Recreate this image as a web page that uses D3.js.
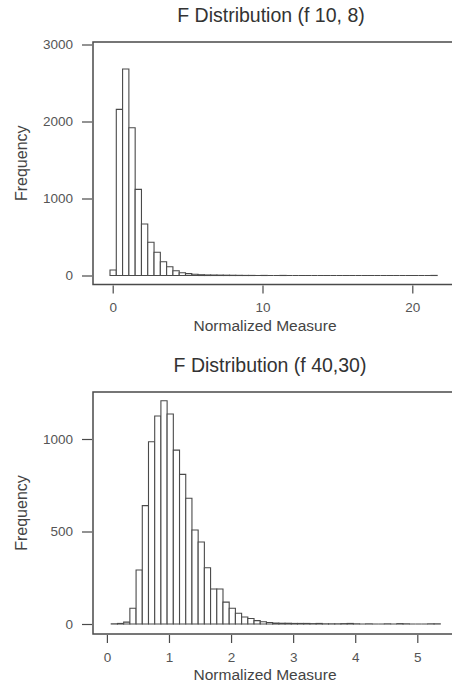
<!DOCTYPE html>
<html>
<head>
<meta charset="utf-8">
<script src="https://cdn.jsdelivr.net/npm/d3@7.9.0/dist/d3.min.js"></script>
<style>
  body { margin: 0; background: #fff; }
  svg { display: block; font-family: "Liberation Sans", Arial, sans-serif; }
</style>
</head>
<body>
<div id="chart"></div>
<script>
// top histogram: F(10, 8)
const topTitle = "F Distribution (f 10, 8)";
const topBinStart = -0.18;
const topBinWidth = 0.42;
const topCounts = [71, 2158, 2682, 1919, 1119, 669, 431, 301, 179, 114, 62, 36,
  24, 16, 10, 7, 6, 5, 4, 3, 2, 1, 1, 0, 1, 0, 0, 1, 0, 0, 0, 0, 0, 0, 0, 0,
  0, 0, 0, 0, 0, 0, 0, 0, 0, 0, 0, 0, 0, 0, 0, 1];
const topXTicks = [0, 10, 20];
const topYTicks = [0, 1000, 2000, 3000];

// bottom histogram: F(40, 30)
const botTitle = "F Distribution (f 40,30)";
const botBinStart = 0.07;
const botBinWidth = 0.1;
const botCounts = [1, 3, 10, 85, 292, 640, 985, 1124, 1207, 1135, 940, 809, 680,
  508, 443, 304, 189, 189, 118, 85, 58, 38, 30, 18, 12, 8, 5, 4, 4, 3, 3, 3, 2,
  3, 1, 1, 1, 2, 3, 1, 0, 1, 0, 0, 1, 0, 2, 1, 0, 0, 0, 1, 1];
const botXTicks = [0, 1, 2, 3, 4, 5];
const botYTicks = [0, 500, 1000];

const xLabel = "Normalized Measure";
const yLabel = "Frequency";

const width = 452, height = 695;
const ink = "#4a4a4a";

const svg = d3.select("#chart").append("svg")
  .attr("width", width)
  .attr("height", height);

function toBins(start, w, counts) {
  return counts.map((c, i) => ({ x0: start + i * w, x1: start + (i + 1) * w, count: c }));
}

function renderHistogram(opt) {
  const g = svg.append("g");
  const box = opt.box;

  const x = d3.scaleLinear().domain(opt.xDomain).range(opt.xRange);
  const y = d3.scaleLinear().domain(opt.yDomain).range(opt.yRange);

  // bars as closed paths so empty bins still show on the baseline (like R's hist)
  g.append("g")
    .selectAll("path")
    .data(opt.bins)
    .join("path")
    .attr("d", d => {
      const p = d3.path();
      p.rect(x(d.x0), y(d.count), x(d.x1) - x(d.x0), y(0) - y(d.count));
      return p.toString();
    })
    .attr("fill", "#fff")
    .attr("stroke", ink)
    .attr("stroke-width", 1.1);

  // frame
  g.append("rect")
    .attr("x", box.left)
    .attr("y", box.top)
    .attr("width", box.right - box.left)
    .attr("height", box.bottom - box.top)
    .attr("fill", "none")
    .attr("stroke", ink)
    .attr("stroke-width", 1.5);

  const xAxis = g.append("g")
    .attr("transform", `translate(0, ${box.bottom + 1})`)
    .call(d3.axisBottom(x).tickValues(opt.xTicks).tickFormat(d3.format("d"))
      .tickSize(8).tickPadding(9));
  const yAxis = g.append("g")
    .attr("transform", `translate(${box.left - 1}, 0)`)
    .call(d3.axisLeft(y).tickValues(opt.yTicks).tickFormat(d3.format("d"))
      .tickSize(10).tickPadding(9));

  [xAxis, yAxis].forEach(a => {
    a.select(".domain").remove();
    a.selectAll("line").attr("stroke", ink).attr("stroke-width", 1.2);
    a.selectAll("text")
      .attr("fill", "#555")
      .style("font-size", "13.5px")
      .style("font-family", "'Liberation Sans', Arial, sans-serif");
  });

  // title
  g.append("text")
    .attr("x", opt.titleX)
    .attr("y", box.top - 20)
    .attr("text-anchor", "middle")
    .attr("fill", "#333")
    .style("font-size", "19.5px")
    .text(opt.title);

  // axis titles
  g.append("text")
    .attr("x", 265)
    .attr("y", box.bottom + 46)
    .attr("text-anchor", "middle")
    .attr("fill", "#444")
    .style("font-size", "15.5px")
    .text(xLabel);

  g.append("text")
    .attr("transform", `translate(27, ${(box.top + box.bottom) / 2}) rotate(-90)`)
    .attr("text-anchor", "middle")
    .attr("fill", "#444")
    .style("font-size", "16px")
    .text(yLabel);
}

renderHistogram({
  title: topTitle,
  titleX: 271,
  bins: toBins(topBinStart, topBinWidth, topCounts),
  box: { left: 93, right: 456, top: 42, bottom: 284.5 },
  xDomain: [0, 20], xRange: [112.7, 412.3],
  yDomain: [0, 3000], yRange: [275.5, 44.5],
  xTicks: topXTicks, yTicks: topYTicks
});

renderHistogram({
  title: botTitle,
  titleX: 270,
  bins: toBins(botBinStart, botBinWidth, botCounts),
  box: { left: 93, right: 456, top: 392, bottom: 634 },
  xDomain: [0, 5], xRange: [106.9, 417.3],
  yDomain: [0, 1000], yRange: [624, 439],
  xTicks: botXTicks, yTicks: botYTicks
});
</script>
</body>
</html>
